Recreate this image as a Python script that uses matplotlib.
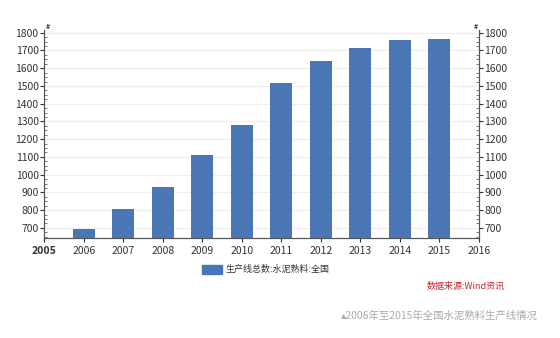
import matplotlib.pyplot as plt
from matplotlib.ticker import MultipleLocator
from matplotlib.patches import Rectangle

plt.rcParams['font.family'] = ['Noto Sans CJK SC', 'DejaVu Sans']

years = [2006, 2007, 2008, 2009, 2010, 2011, 2012, 2013, 2014, 2015]
lines_total = [694, 807, 928, 1112, 1278, 1517, 1640, 1715, 1758, 1764]
year_ticks = list(range(2005, 2017))
legend_label = '生产线总数:水泥熟料:全国'
source_text = '数据来源:Wind资讯'
caption = '▴2006年至2015年全国水泥熟料生产线情况'

bar_color = '#4a76b5'

fig = plt.figure(figsize=(5.6, 3.38), dpi=100)
ax = fig.add_axes([0.079, 0.296, 0.776, 0.615])

ax.bar(years, lines_total, width=0.55, color=bar_color, zorder=3)
ax.set_xlim(2005, 2016)
ax.set_ylim(643, 1815)
ax.set_xticks(year_ticks)
ax.set_xticklabels([str(y) for y in year_ticks], fontsize=7.5, color='#333333')
ax.get_xticklabels()[0].set_fontweight('bold')
ax.grid(axis='y', color='#eeeeee', linewidth=0.8, zorder=0)
ax.tick_params(axis='x', length=3, pad=3, colors='#333333')

ax2 = ax.twinx()
ax2.set_ylim(ax.get_ylim())

for a in (ax, ax2):
    a.yaxis.set_major_locator(MultipleLocator(100))
    a.yaxis.set_minor_locator(MultipleLocator(25))
    a.set_yticks(range(700, 1801, 100))
    a.tick_params(axis='y', labelsize=7.5, colors='#333333', length=3, pad=1)
    a.tick_params(axis='y', which='minor', length=2, direction='in', colors='#666666')
    a.spines['top'].set_visible(False)
    for s in ('left', 'right', 'bottom'):
        a.spines[s].set_color('#555555')
        a.spines[s].set_linewidth(0.8)

# small markers at the top of both value axes
fig.text(0.081, 0.913, '#', fontsize=5, color='#333333', fontweight='bold')
fig.text(0.846, 0.913, '#', fontsize=5, color='#333333', fontweight='bold')

# legend, source and caption below the plot
fig.patches.append(Rectangle((0.361, 0.19), 0.036, 0.027, transform=fig.transFigure,
                             color=bar_color, figure=fig))
fig.text(0.402, 0.203, legend_label, fontsize=6.5, color='#333333', va='center')
fig.text(0.762, 0.152, source_text, fontsize=6.5, color='#c0282e', style='italic', va='center')
fig.text(0.96, 0.065, caption, fontsize=7.5, color='#aaaaaa', ha='right', va='center')

fig.savefig('out.png', dpi=100)
